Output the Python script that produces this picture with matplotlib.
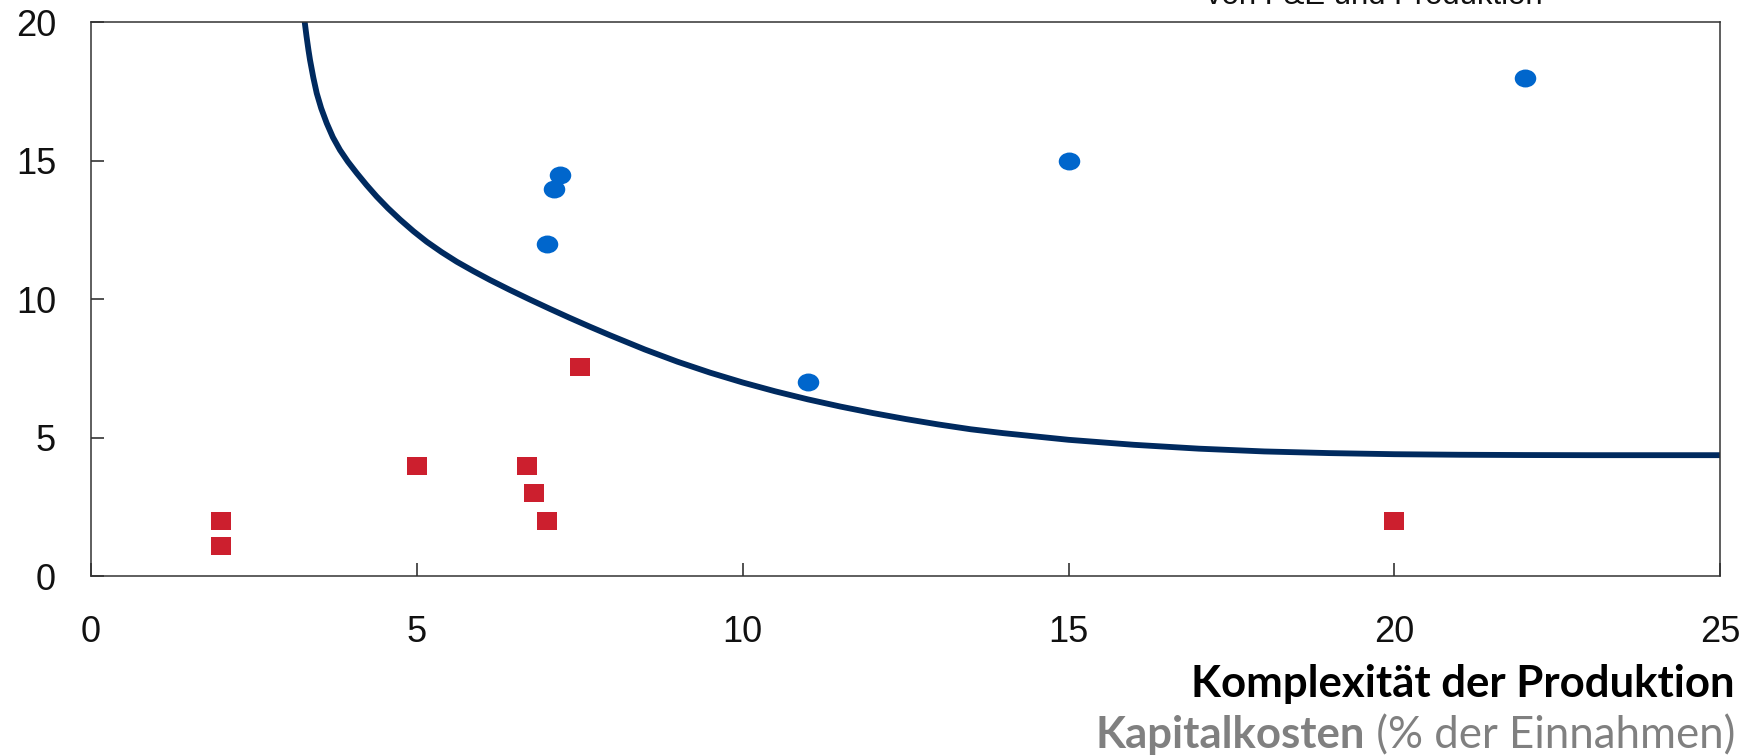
import matplotlib
matplotlib.use("Agg")
import matplotlib.pyplot as plt
from matplotlib.path import Path
from matplotlib.transforms import Affine2D

# Firms with low capital cost share (red squares)
low_x = [2.0, 2.0, 5.0, 6.7, 6.8, 7.0, 7.5, 20.0]
low_y = [2.0, 1.1, 4.0, 4.0, 3.0, 2.0, 7.55, 2.0]

# Firms with high capital cost share (blue dots)
high_x = [7.0, 7.1, 7.2, 11.0, 15.0, 22.0]
high_y = [12.0, 14.0, 14.5, 7.0, 15.0, 18.0]

# Frontier curve
curve_x = [3.268, 3.283, 3.31, 3.34, 3.364, 3.415, 3.467, 3.535, 3.62, 3.715,
           3.824, 3.945, 4.08, 4.23, 4.387, 4.56, 4.745, 4.95, 5.154, 5.38,
           5.614, 5.87, 6.125, 6.43, 6.74, 7.05, 7.35, 7.66, 7.97, 8.5, 9.0,
           9.5, 10.0, 10.5, 11.0, 11.5, 12.0, 12.5, 13.0, 13.5, 14.0, 15.0,
           16.0, 17.0, 18.0, 19.0, 20.0, 21.0, 22.0, 23.0, 24.0, 25.0]
curve_y = [20.3, 20.0, 19.5, 19.0, 18.64, 18.0, 17.44, 16.9, 16.36, 15.85,
           15.39, 14.97, 14.56, 14.13, 13.71, 13.29, 12.88, 12.46, 12.08, 11.71,
           11.36, 11.02, 10.70, 10.34, 9.99, 9.65, 9.33, 9.01, 8.70, 8.19, 7.75,
           7.355, 7.0, 6.68, 6.39, 6.13, 5.895, 5.68, 5.485, 5.31, 5.17, 4.93,
           4.75, 4.61, 4.51, 4.45, 4.41, 4.39, 4.38, 4.375, 4.375, 4.375]

x_ticks = [0, 5, 10, 15, 20, 25]
y_ticks = [0, 5, 10, 15, 20]

title_top = "von F&E und Produktion"
xlabel_main = "Komplexität der Produktion"
ylabel_bold = "Kapitalkosten"
ylabel_rest = " (% der Einnahmen)"

NAVY = "#002a5f"
BLUE = "#0066cc"
RED = "#cc1f2e"
GREY = "#808080"

fig = plt.figure(figsize=(17.55, 7.55), dpi=100)
ax = fig.add_axes([0.0517, 0.2366, 0.9286, 0.7338])

# slightly wide markers
ellipse = Path.unit_circle().transformed(Affine2D().scale(1.2, 1.0))
rect = Path([(-0.59, -0.5), (0.59, -0.5), (0.59, 0.5), (-0.59, 0.5), (-0.59, -0.5)],
            [Path.MOVETO, Path.LINETO, Path.LINETO, Path.LINETO, Path.CLOSEPOLY])

ax.plot(curve_x, curve_y, color=NAVY, lw=4.2, solid_capstyle="butt",
        solid_joinstyle="round", zorder=2)
ax.plot(low_x, low_y, linestyle="none", marker=rect, markersize=14.5,
        color=RED, markeredgewidth=0, zorder=3)
ax.plot(high_x, high_y, linestyle="none", marker=ellipse, markersize=15.5,
        color=BLUE, markeredgewidth=0, zorder=3)

ax.set_xlim(0, 25)
ax.set_ylim(0, 20)
ax.set_xticks(x_ticks)
ax.set_yticks(y_ticks)
ax.set_xticklabels([str(v) for v in x_ticks])
ax.set_yticklabels([str(v) for v in y_ticks])

for s in ax.spines.values():
    s.set_color("#333333")
    s.set_linewidth(1.1)

ax.tick_params(axis="both", direction="in", length=9.5, width=1.1, color="#222222",
               labelsize=26, labelcolor="#111111")
ax.tick_params(axis="x", pad=28)
ax.tick_params(axis="y", pad=25)
for lbl in ax.get_xticklabels() + ax.get_yticklabels():
    lbl.set_fontfamily("Liberation Sans")

# header line partly above the canvas
fig.text(1374 / 1755, 1 - 4 / 755, title_top, ha="center", va="baseline",
         fontsize=22.4, family="Liberation Sans", color="#111111")

# bottom-right labels
fig.text(1735 / 1755, 1 - 697 / 755, xlabel_main, ha="right", va="baseline",
         fontsize=31.5, fontweight="bold", family="Lato", color="black")
t2 = fig.text(1735 / 1755, 1 - 748 / 755, ylabel_rest, ha="right", va="baseline",
              fontsize=31.5, family="Lato", color=GREY)
fig.canvas.draw()
bb = t2.get_window_extent()
fig.text(bb.x0 / fig.bbox.width, 1 - 748 / 755, ylabel_bold, ha="right", va="baseline",
         fontsize=31.5, fontweight="bold", family="Lato", color=GREY)

fig.savefig("out.png", dpi=100)
